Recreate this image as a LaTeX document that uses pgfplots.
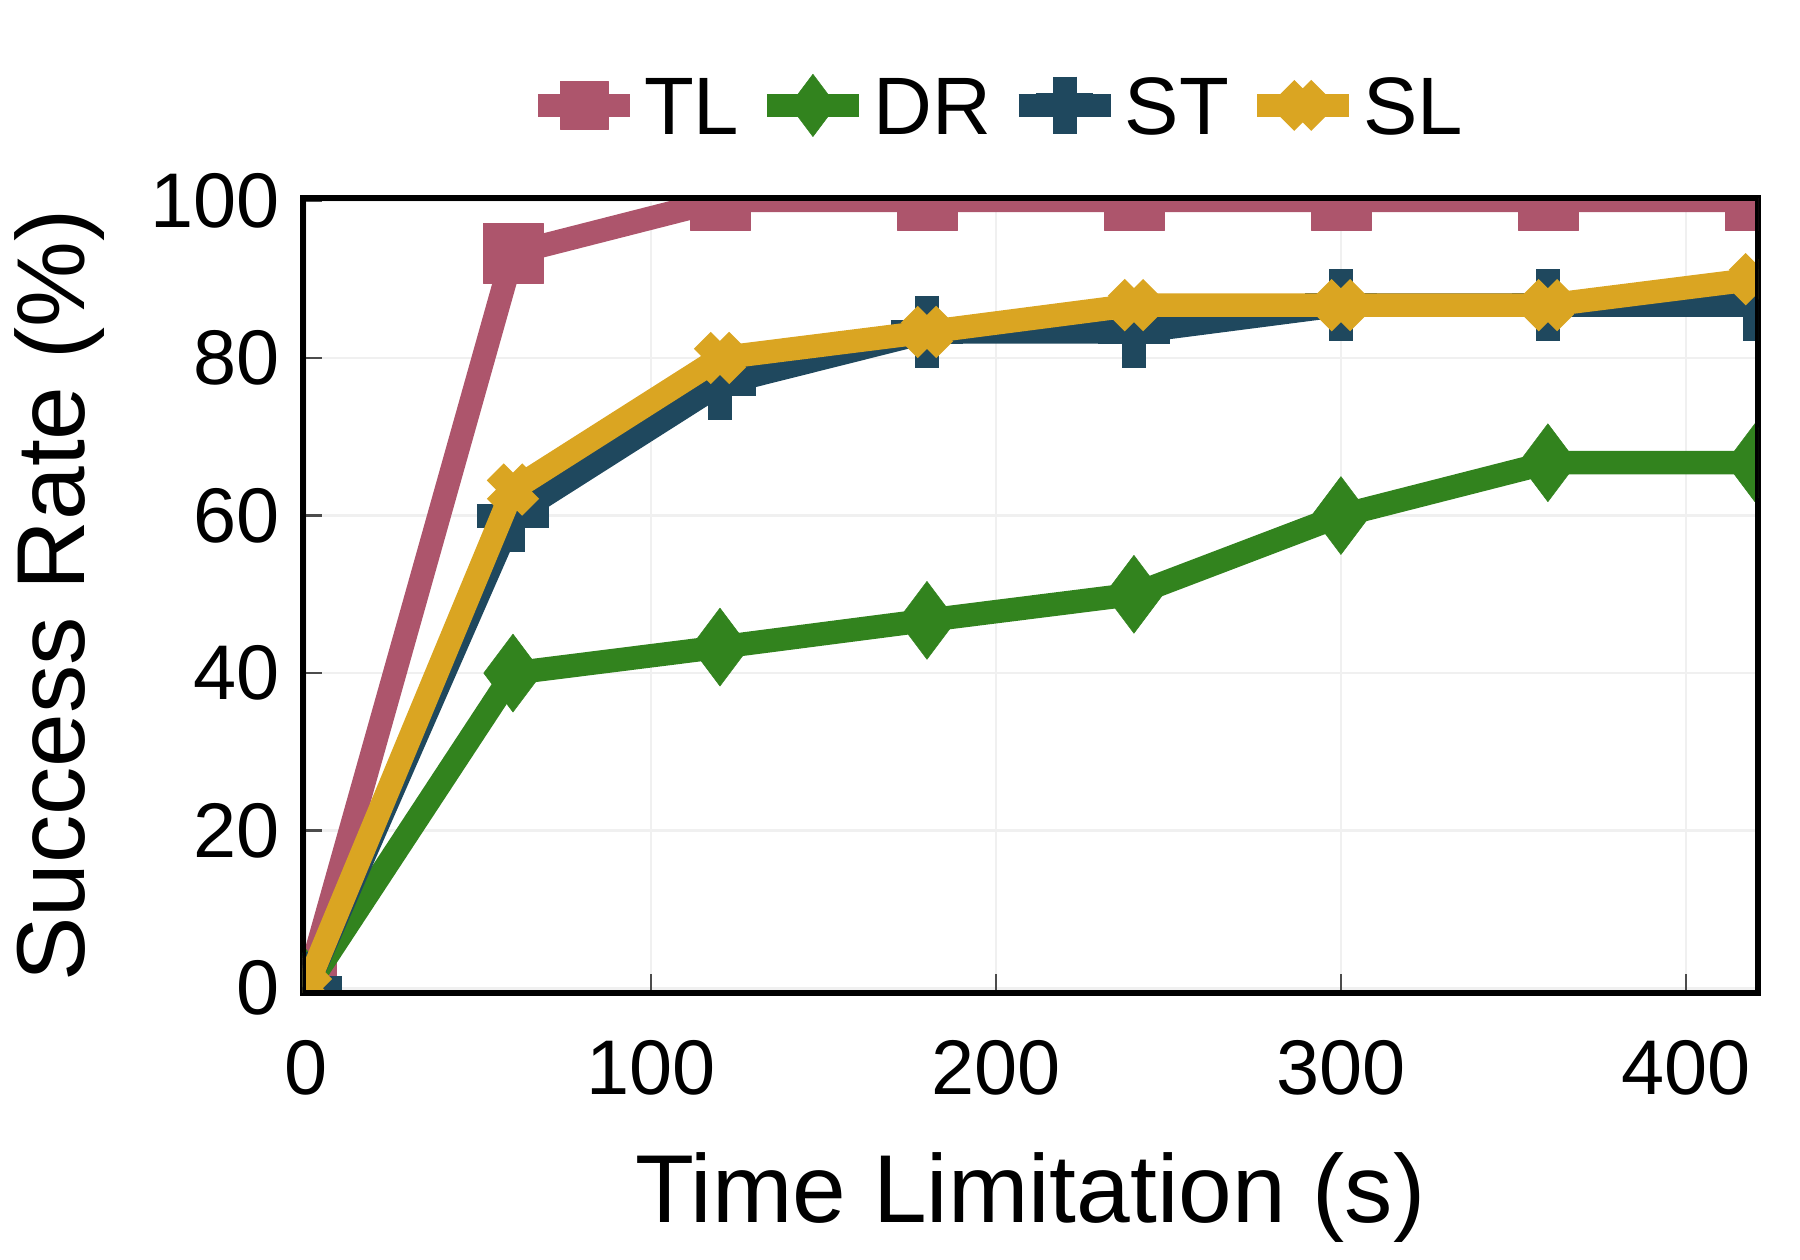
\documentclass[border=0pt]{standalone}
\usepackage{fontspec}
\setmainfont{Liberation Sans}
\usepackage{pgfplots}
\pgfplotsset{compat=1.18}
\definecolor{tlc}{RGB}{173,85,108}
\definecolor{drc}{RGB}{50,131,30}
\definecolor{stc}{RGB}{31,72,94}
\definecolor{slc}{RGB}{218,165,34}
\definecolor{gridc}{RGB}{240,240,240}
\begin{document}
\begin{tikzpicture}
\useasboundingbox (-60.6pt,-53.4pt) rectangle (299.4pt,198.6pt);
\begin{axis}[
  scale only axis, width=291pt, height=159pt,
  xmin=-0.87, xmax=420.9, ymin=-0.6, ymax=100.3,
  xtick={0,100,200,300,400}, ytick={0,20,40,60,80,100},
  grid=major, major grid style={color=gridc, line width=0.5pt},
  tick align=inside, tick pos=left,
  major tick length=3.8pt,
  tick style={color=black!70, line width=0.5pt},
  axis line style={line width=1.2pt, black},
  /pgf/number format/assume math mode=true,
  tick label style={font=\fontsize{15.5}{18}\selectfont, inner sep=0pt},
  xticklabel style={anchor=north, yshift=-9.2pt},
  yticklabel style={anchor=east, xshift=-4.5pt},
  label style={font=\fontsize{19.3}{23}\selectfont},
  xlabel={Time Limitation (s)},
  ylabel={Success Rate (\%)},
  xlabel style={at={(axis description cs:0.5,0)}, anchor=base, yshift=-46pt},
  ylabel style={at={(axis description cs:-0.1499,0.5)}, anchor=base},
  clip marker paths=true,
  legend columns=-1,
  legend style={at={(axis description cs:0.4752,1.113)}, anchor=center,
    draw=none, fill=none, inner sep=0pt,
    font=\fontsize{16.3}{19}\selectfont, nodes={inner sep=0pt},
    /tikz/every odd column/.append style={column sep=0.5pt},
    /tikz/every even column/.append style={column sep=3.2pt}},
  legend image code/.code={\draw[#1, mark repeat=2, mark phase=2] plot coordinates {(0pt,0.9pt) (9.2pt,0.9pt) (18.4pt,0.9pt)};},
  legend image post style={every mark/.append style={scale=0.8}},
]
\addplot[tlc, line width=4.7pt, line join=round, mark=square*, mark size=6pt,
  mark options={solid, fill=tlc, draw=tlc, line width=0.1pt}]
  coordinates {(0,0) (60,93.3) (120,100) (180,100) (240,100) (300,100) (360,100) (420,100)};
\addlegendentry{TL}
\addplot[drc, line width=4.7pt, line join=round, mark=diamond*, mark size=7.8pt,
  mark options={solid, fill=drc, draw=drc, line width=0.1pt}]
  coordinates {(0,0) (60,40) (120,43.3) (180,46.7) (240,50) (300,60) (360,66.7) (420,66.7)};
\addlegendentry{DR}
\addplot[stc, line width=4.7pt, line join=round, mark=+, mark size=7.2pt,
  mark options={solid, draw=stc, line width=4.8pt}]
  coordinates {(0,0) (60,60) (120,76.7) (180,83.3) (240,83.3) (300,86.7) (360,86.7) (420,86.7)};
\addlegendentry{ST}
\addplot[slc, line width=4.7pt, line join=round, mark=x, mark size=5pt,
  mark options={solid, draw=slc, line width=4.8pt}, forget plot]
  coordinates {(0,0) (60,63.3) (120,80) (180,83.3) (240,86.7) (300,86.7) (360,86.7) (420,90)};
\addlegendimage{slc, line width=4.7pt, line join=round, mark=x, mark size=6pt,
  mark options={solid, draw=slc, line width=4.8pt}}
\addlegendentry{SL}
\draw[black, line width=1.2pt] (rel axis cs:0,0) rectangle (rel axis cs:1,1);
\end{axis}
\end{tikzpicture}
\end{document}
